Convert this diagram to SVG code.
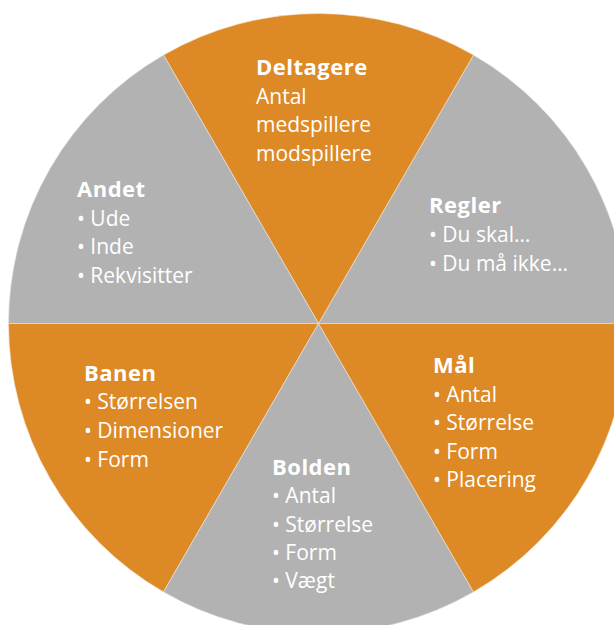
<svg xmlns="http://www.w3.org/2000/svg" width="614" height="625" viewBox="0 0 614 625">
<style>
.o{fill:#DD8925;stroke:#f3e6d6;stroke-width:0.6}
.g{fill:#B2B2B2;stroke:#e6e6e6;stroke-width:0.6}
text{font-family:"Open Sans","Noto Sans","DejaVu Sans",sans-serif;font-size:21px;fill:#ffffff}
.t{font-weight:bold;font-size:22px;letter-spacing:0.5px}
</style>
<rect width="614" height="625" fill="#ffffff"/>
<g id="regler">
<path class="g" d="M318.5,323.5 L628.5,323.5 A310,310 0 0 0 473.5,55.03 Z"/>
<text class="t" x="429" y="213">Regler</text>
<text x="429" y="242">• Du skal…</text>
<text x="429" y="271">• Du må ikke…</text>
</g>
<g id="deltagere">
<path class="o" d="M318.5,323.5 L473.5,55.03 A310,310 0 0 0 163.5,55.03 Z"/>
<text class="t" x="256" y="75">Deltagere</text>
<text x="256" y="104">Antal</text>
<text x="256" y="132">medspillere</text>
<text x="256" y="161">modspillere</text>
</g>
<g id="andet">
<path class="g" d="M318.5,323.5 L163.5,55.03 A310,310 0 0 0 8.5,323.5 Z"/>
<text class="t" x="77" y="197">Andet</text>
<text x="77" y="226">• Ude</text>
<text x="77" y="254">• Inde</text>
<text x="77" y="283">• Rekvisitter</text>
</g>
<g id="banen">
<path class="o" d="M318.5,323.5 L8.5,323.5 A310,310 0 0 0 163.5,591.97 Z"/>
<text class="t" x="84" y="381">Banen</text>
<text x="84" y="409">• Størrelsen</text>
<text x="84" y="438">• Dimensioner</text>
<text x="84" y="467">• Form</text>
</g>
<g id="bolden">
<path class="g" d="M318.5,323.5 L163.5,591.97 A310,310 0 0 0 473.5,591.97 Z"/>
<text class="t" x="272" y="475">Bolden</text>
<text x="272" y="503">• Antal</text>
<text x="272" y="532">• Størrelse</text>
<text x="272" y="560">• Form</text>
<text x="272" y="588">• Vægt</text>
</g>
<g id="maal">
<path class="o" d="M318.5,323.5 L473.5,591.97 A310,310 0 0 0 628.5,323.5 Z"/>
<text class="t" x="433" y="373">Mål</text>
<text x="433" y="402">• Antal</text>
<text x="433" y="430">• Størrelse</text>
<text x="433" y="459">• Form</text>
<text x="433" y="487">• Placering</text>
</g>
<g id="connectors"/>
</svg>
